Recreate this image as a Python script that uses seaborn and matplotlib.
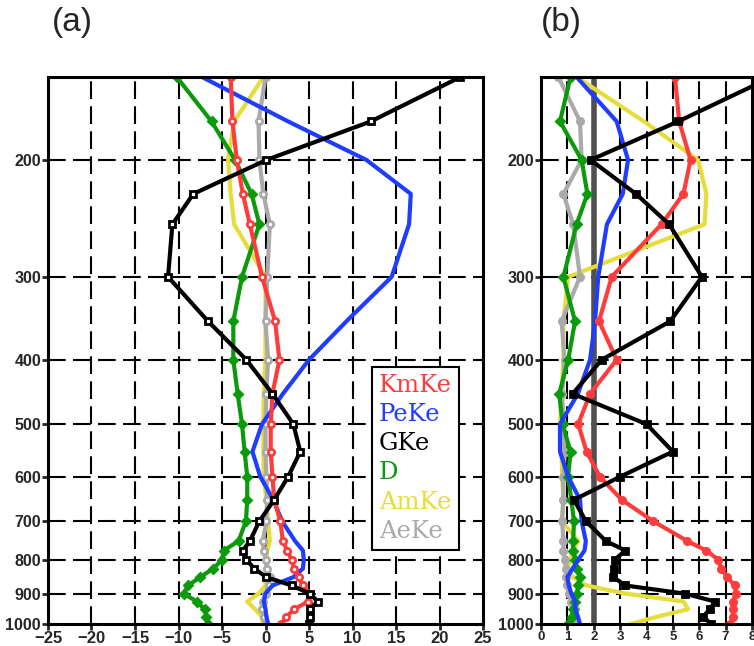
import numpy as np
import pandas as pd
import matplotlib
matplotlib.use('Agg')
import matplotlib.pyplot as plt
import seaborn as sns
from matplotlib.lines import Line2D
from matplotlib.ticker import NullLocator, FixedLocator

sns.set_style('ticks')
plt.rcParams['font.family'] = ['Liberation Sans', 'DejaVu Sans']

# pressure levels (hPa), bottom to top
levels = [1000, 975, 950, 925, 900, 875, 850, 825, 800, 775, 750, 700, 650,
          600, 550, 500, 450, 400, 350, 300, 250, 225, 200, 175, 150]

# panel (a)
kmke_a = [1.8, 2.4, 3.3, 4.9, 5.1, 4.3, 3.8, 3.3, 3.0, 2.5, 2.0, 1.7, 1.0,
          0.8, 0.6, 0.6, 0.8, 1.6, 1.1, -0.4, -1.8, -2.6, -3.3, -3.8, -4.0]
peke_a = [0.3, 0.1, 0.0, -0.2, 0.0, 0.8, 3.2, 4.3, 4.4, 4.3, 3.4, 1.9, 0.9,
          -0.6, -1.5, -0.4, 2.0, 5.0, 9.3, 14.5, 16.5, 16.7, 11.6, 2.6, -7.3]
gke_a = [5.0, 5.1, 5.1, 6.0, 5.1, 3.0, 0.1, -1.3, -2.2, -2.6, -1.8, -0.7, 1.0,
         2.6, 4.0, 3.2, 0.8, -2.2, -6.6, -11.2, -10.7, -8.3, 0.1, 12.1, 22.4]
d_a = [-6.6, -6.8, -7.0, -7.9, -9.4, -8.9, -7.5, -6.0, -5.0, -4.8, -3.1, -2.25, -2.1,
       -2.1, -2.4, -2.7, -3.2, -3.7, -3.7, -2.7, -0.7, -1.6, -3.5, -6.2, -10.2]
amke_a = [-0.3, -0.45, -1.2, -2.1, -0.8, 0.0, 0.0, 0.1, 0.1, 0.2, 0.5, 0.3, 0.1,
          -0.2, -0.25, -0.25, -0.2, 0.0, 0.0, 0.0, -3.6, -4.0, -4.3, -3.6, -0.25]
aeke_a = [0.0, -0.2, -0.4, -0.3, 0.0, 0.4, 0.5, 0.2, 0.0, -0.2, -0.3, 0.1, 0.2,
          0.1, 0.0, 0.0, 0.1, 0.3, 0.0, 0.2, 0.5, -0.25, -0.7, -0.8, 0.0]

# panel (b)
kmke_b = [7.16, 7.28, 7.28, 7.28, 7.4, 7.35, 7.06, 6.84, 6.72, 6.26, 5.55, 4.25, 3.06,
          2.23, 1.73, 1.41, 1.86, 2.87, 2.2, 2.68, 4.57, 5.4, 5.67, 5.24, 5.08]
peke_b = [1.48, 1.4, 1.3, 1.3, 1.15, 1.05, 1.0, 1.2, 1.41, 1.65, 1.7, 1.54, 1.48,
          1.03, 0.72, 0.72, 1.4, 1.86, 2.05, 2.17, 2.5, 3.1, 3.3, 2.87, 1.35]
gke_b = [6.45, 6.15, 6.4, 6.6, 5.45, 3.2, 2.74, 2.78, 2.8, 3.2, 2.46, 1.7, 1.25,
         3.0, 5.0, 4.0, 1.2, 2.3, 4.9, 6.1, 4.86, 3.6, 1.88, 5.2, 8.75]
d_b = [1.03, 1.16, 1.22, 1.29, 1.35, 1.42, 1.48, 1.35, 1.3, 1.22, 1.22, 1.25, 1.15,
       1.03, 1.12, 0.82, 0.69, 1.03, 1.29, 0.85, 1.35, 1.76, 1.54, 0.72, 1.12]
amke_b = [3.4, 4.4, 5.58, 5.4, 3.2, 1.73, 1.2, 1.0, 1.1, 1.2, 1.41, 0.78, 0.85,
          0.8, 0.78, 0.72, 0.78, 0.85, 0.85, 1.03, 6.2, 6.27, 5.96, 3.9, 1.35]
aeke_b = [1.2, 1.25, 1.3, 1.15, 1.05, 1.0, 0.95, 0.95, 0.9, 0.85, 0.85, 0.8, 0.85,
          0.85, 0.9, 0.85, 0.8, 0.9, 0.78, 1.48, 1.22, 0.85, 1.54, 1.48, 0.66]

names = ['KmKe', 'PeKe', 'GKe', 'D', 'AmKe', 'AeKe']
colors = {'KmKe': '#ff3c3c', 'PeKe': '#1f3cff', 'GKe': '#000000',
          'D': '#0a9a0a', 'AmKe': '#e6dc3a', 'AeKe': '#aaaaaa'}
markers = {'KmKe': 'o', 'PeKe': None, 'GKe': 's', 'D': 'D', 'AmKe': None, 'AeKe': 'o'}
draw_order = ['AmKe', 'AeKe', 'D', 'PeKe', 'KmKe', 'GKe']

data_a = dict(zip(names, [kmke_a, peke_a, gke_a, d_a, amke_a, aeke_a]))
data_b = dict(zip(names, [kmke_b, peke_b, gke_b, d_b, amke_b, aeke_b]))

fig = plt.figure(figsize=(7.54, 6.46), dpi=100)
ax_a = fig.add_axes([48/754, 22/646, 435/754, 547/646])
ax_b = fig.add_axes([541/754, 22/646, 211/754, 547/646])

grid_kw = dict(color='black', lw=1.5, linestyle=(0, (8.5, 3.5)), zorder=1)


def style_axis(ax, xticks, xlim, xgrid, tick_size):
    ax.set_yscale('log')
    ax.set_ylim(1000, 150)
    ax.set_xlim(*xlim)
    ax.yaxis.set_major_locator(FixedLocator([200, 300, 400, 500, 600, 700, 800, 900, 1000]))
    ax.yaxis.set_minor_locator(NullLocator())
    ax.set_yticklabels(['200', '300', '400', '500', '600', '700', '800', '900', '1000'])
    ax.set_xticks(xticks)
    for v in xgrid:
        ax.axvline(v, **grid_kw)
    for p in [200, 300, 400, 500, 600, 700, 800, 900]:
        ax.axhline(p, **grid_kw)
    for s in ax.spines.values():
        s.set_linewidth(2.2)
        s.set_color('black')
        s.set_zorder(5)
    ax.tick_params(axis='both', direction='out', length=4, width=2, pad=1)
    ax.tick_params(axis='y', labelsize=11.5)
    ax.tick_params(axis='x', labelsize=tick_size)
    for lab in ax.get_xticklabels() + ax.get_yticklabels():
        lab.set_fontweight('bold')
    ax.set_xlabel('')
    ax.set_ylabel('')


for ax, data, hollow in [(ax_a, data_a, True), (ax_b, data_b, False)]:
    for name in draw_order:
        df = pd.DataFrame({'val': data[name], 'p': levels})
        kw = {}
        m = markers[name]
        if m is not None:
            ms = 4.5 if m == 'D' else 4.5
            kw = dict(marker=m, markersize=ms, markeredgecolor=colors[name],
                      markeredgewidth=2,
                      markerfacecolor='white' if (hollow and m != 'D') else colors[name])
        sns.lineplot(data=df, x='val', y='p', sort=False, estimator=None,
                     color=colors[name], lw=3, ax=ax, zorder=3, **kw)

style_axis(ax_a, list(range(-25, 26, 5)), (-25, 25), range(-20, 21, 5), 12)
style_axis(ax_b, list(range(0, 9)), (0, 8), range(1, 8), 9.5)
ax_b.axvline(2, color='#505050', lw=4, zorder=2)

handles = [Line2D([], [], linestyle='none') for _ in names]
leg = ax_a.legend(handles, names, loc='upper left', bbox_to_anchor=(0.744, 0.470),
                  labelcolor=[colors[n] for n in names], handlelength=0,
                  handletextpad=0, borderpad=0.3, borderaxespad=0,
                  labelspacing=0.25, fancybox=False, framealpha=1,
                  edgecolor='black', prop={'family': 'DejaVu Serif', 'size': 17.5})
leg.get_frame().set_linewidth(1.5)
leg.set_zorder(6)

fig.text(72/754, 1 - 22/646, '(a)', fontsize=24, ha='center', va='center')
fig.text(561/754, 1 - 22/646, '(b)', fontsize=24, ha='center', va='center')

fig.savefig('out.png', dpi=100)
